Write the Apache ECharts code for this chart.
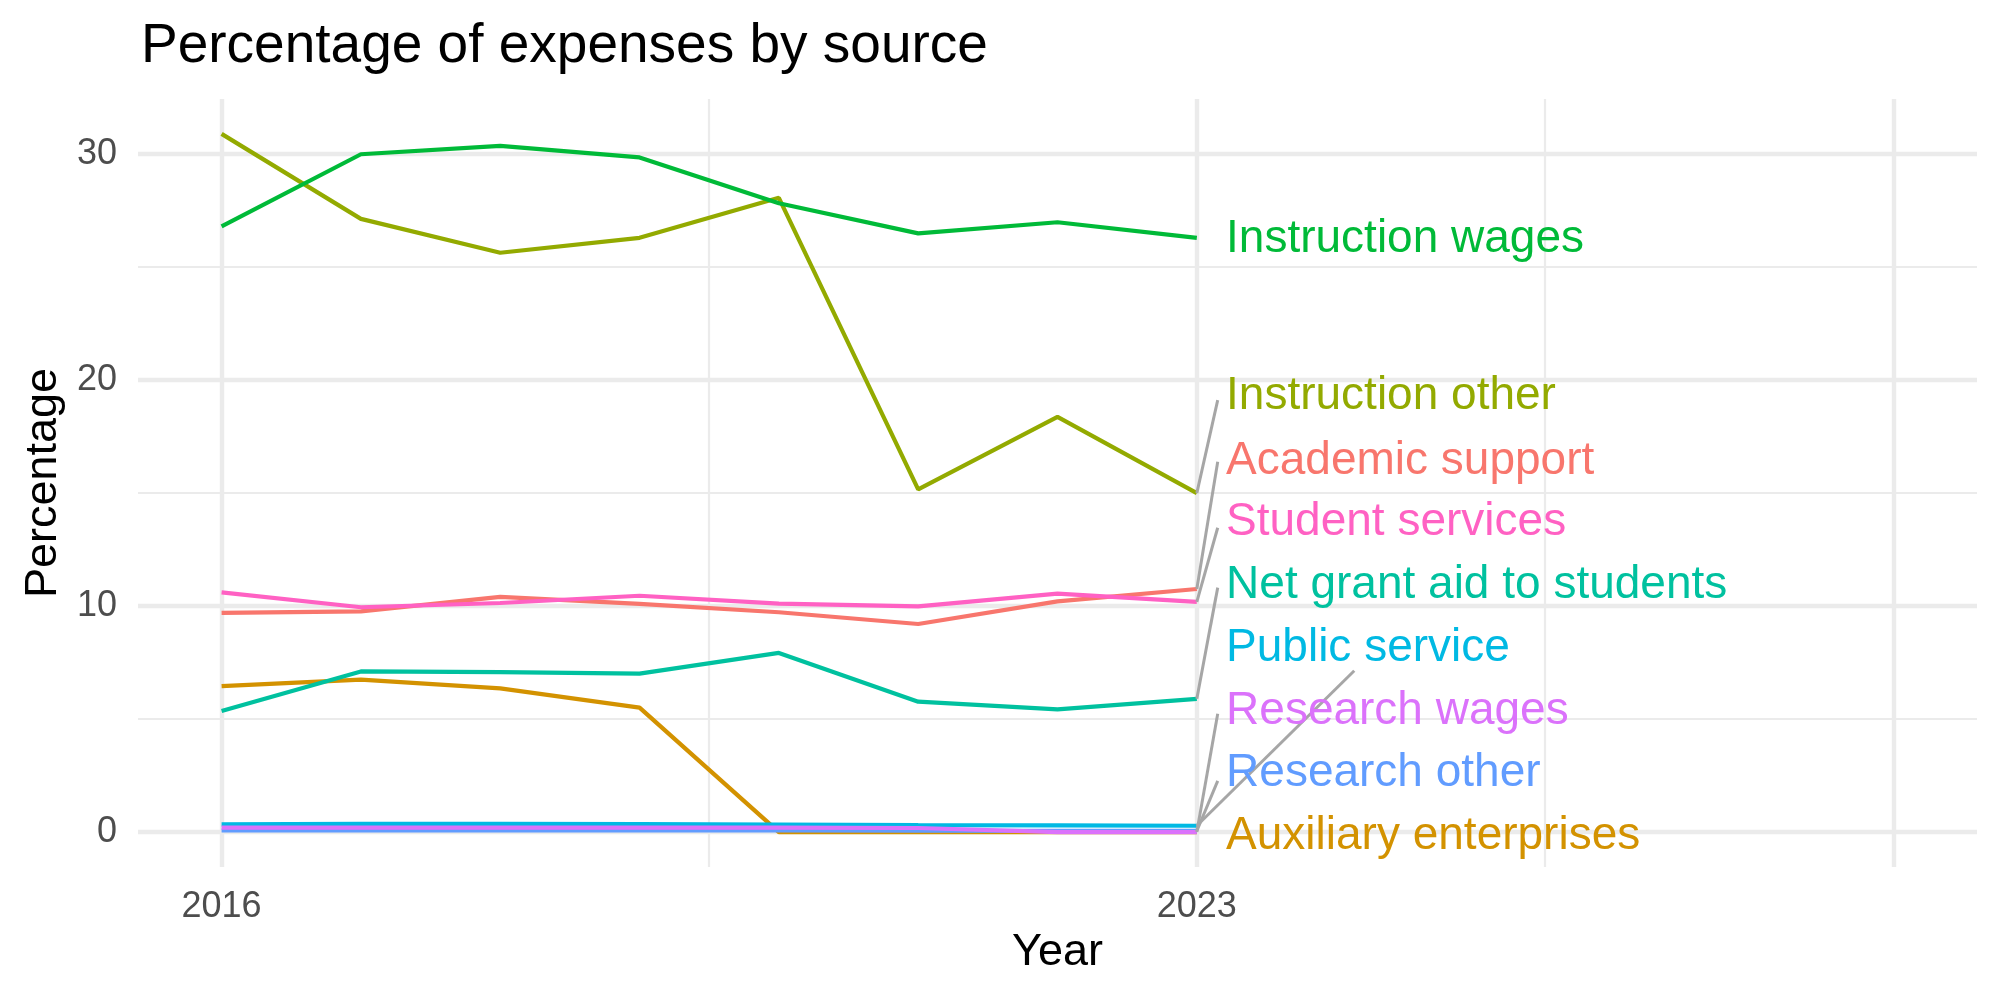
<!DOCTYPE html>
<html>
<head>
<meta charset="utf-8">
<script src="https://cdn.jsdelivr.net/npm/echarts@6/dist/echarts.min.js"></script>
<style>
  html, body { margin: 0; padding: 0; background: #fff; }
  #chart { width: 2000px; height: 1000px; }
</style>
</head>
<body>
<div id="chart"></div>
<script>
// years on the x axis
var years = [2016, 2017, 2018, 2019, 2020, 2021, 2022, 2023];

// percentage of expenses
var academicSupport   = [9.70, 9.77, 10.41, 10.10, 9.73, 9.21, 10.21, 10.76];
var auxiliary         = [6.46, 6.75, 6.36, 5.51, 0.00, 0.00, 0.00, 0.00];
var instructionOther  = [30.90, 27.14, 25.64, 26.30, 28.07, 15.17, 18.38, 15.00];
var instructionWages  = [26.81, 30.00, 30.37, 29.86, 27.83, 26.50, 26.99, 26.30];
var netGrantAid       = [5.36, 7.11, 7.08, 7.01, 7.93, 5.77, 5.43, 5.90];
var publicService     = [0.34, 0.36, 0.36, 0.35, 0.33, 0.31, 0.30, 0.28];
var researchOther     = [0.07, 0.07, 0.07, 0.07, 0.07, 0.06, 0.05, 0.05];
var researchWages     = [0.20, 0.20, 0.20, 0.20, 0.20, 0.18, 0.00, 0.00];
var studentServices   = [10.61, 9.95, 10.14, 10.46, 10.11, 9.99, 10.55, 10.19];

var seriesNames = ['Academic support', 'Auxiliary enterprises', 'Instruction other',
  'Instruction wages', 'Net grant aid to students', 'Public service',
  'Research other', 'Research wages', 'Student services'];
var seriesValues = [academicSupport, auxiliary, instructionOther, instructionWages,
  netGrantAid, publicService, researchOther, researchWages, studentServices];

// ggplot default hue palette for 9 groups
var colors = ['#F8766D', '#D39200', '#93AA00', '#00BA38', '#00C19F',
  '#00B9E3', '#619CFF', '#DB72FB', '#FF61C3'];

// y ticks and x tick labels
var yTicks = [0, 10, 20, 30];
var xTickLabels = [2016, 2023];

// --- layout for the repelled labels (data units) ---
var labelX = 2023.21;
var labelY = {
  'Instruction wages': 26.24,
  'Instruction other': 19.28,
  'Academic support': 16.43,
  'Student services': 13.70,
  'Net grant aid to students': 10.92,
  'Public service': 8.13,
  'Research wages': 5.34,
  'Research other': 2.60,
  'Auxiliary enterprises': -0.19
};
// where each connector segment ends (no entry = no segment)
var segEnd = {
  'Instruction other': [2023.15, 19.12],
  'Academic support': [2023.15, 16.39],
  'Student services': [2023.15, 13.47],
  'Net grant aid to students': [2023.15, 10.82],
  'Public service': [2024.13, 7.14],
  'Research wages': [2023.15, 5.24],
  'Research other': [2023.15, 2.27]
};

var FONT = 'Liberation Sans, Arial, Helvetica, sans-serif';
var GRID_COL = '#EBEBEB';

var chart = echarts.init(document.getElementById('chart'));

var series = [];

// grid lines drawn as mark lines so they can sit at irregular positions
var majorW = 4.4, minorW = 2.2;
series.push({
  name: 'grid',
  type: 'line',
  data: [],
  silent: true,
  z: 0,
  markLine: {
    silent: true,
    z: 0,
    symbol: ['none', 'none'],
    label: { show: false },
    animation: false,
    data: [
      { xAxis: 2016, lineStyle: { width: majorW } },
      { xAxis: 2023, lineStyle: { width: majorW } },
      { xAxis: 2028, lineStyle: { width: majorW } },
      { xAxis: 2019.5, lineStyle: { width: minorW } },
      { xAxis: 2025.5, lineStyle: { width: minorW } },
      { yAxis: 0, lineStyle: { width: majorW } },
      { yAxis: 10, lineStyle: { width: majorW } },
      { yAxis: 20, lineStyle: { width: majorW } },
      { yAxis: 30, lineStyle: { width: majorW } },
      { yAxis: 5, lineStyle: { width: minorW } },
      { yAxis: 15, lineStyle: { width: minorW } },
      { yAxis: 25, lineStyle: { width: minorW } }
    ],
    lineStyle: { color: GRID_COL, type: 'solid', opacity: 1 }
  }
});

// data lines
for (var i = 0; i < seriesNames.length; i++) {
  var pts = [];
  for (var j = 0; j < years.length; j++) pts.push([years[j], seriesValues[i][j]]);
  series.push({
    name: seriesNames[i],
    type: 'line',
    data: pts,
    symbol: 'none',
    z: 10,
    lineStyle: { color: colors[i], width: 4.2, opacity: 1 },
    itemStyle: { color: colors[i] },
    emphasis: { disabled: true },
    animation: false
  });
}

// connector segments from the last point to the label
var segs = [];
for (var i = 0; i < seriesNames.length; i++) {
  var end = segEnd[seriesNames[i]];
  if (!end) continue;
  var last = seriesValues[i][seriesValues[i].length - 1];
  segs.push({ coords: [[years[years.length - 1], last], end] });
}
series.push({
  name: 'segments',
  type: 'lines',
  coordinateSystem: 'cartesian2d',
  data: segs,
  silent: true,
  z: 11,
  lineStyle: { color: '#A6A6A6', width: 3, opacity: 1, curveness: 0 },
  animation: false
});

// labels
var labelData = [];
for (var i = 0; i < seriesNames.length; i++) {
  labelData.push({
    value: [labelX, labelY[seriesNames[i]]],
    name: seriesNames[i],
    label: { color: colors[i] }
  });
}
series.push({
  name: 'labels',
  type: 'scatter',
  data: labelData,
  symbolSize: 0,
  silent: true,
  z: 12,
  animation: false,
  itemStyle: { opacity: 1 },
  label: {
    show: true,
    position: 'right',
    distance: 0,
    formatter: '{b}',
    fontFamily: FONT,
    fontSize: 46,
    textBorderWidth: 0,
    textShadowBlur: 0,
    opacity: 1
  }
});

var option = {
  backgroundColor: '#FFFFFF',
  animation: false,
  title: {
    text: 'Percentage of expenses by source',
    left: 136,
    top: 14,
    textStyle: { fontFamily: FONT, fontSize: 55, fontWeight: 'normal', color: '#000000' }
  },
  grid: { left: 138, right: 23, top: 99, bottom: 133, containLabel: false },
  xAxis: {
    type: 'value',
    min: 2015.4,
    max: 2028.6,
    name: 'Year',
    nameLocation: 'middle',
    nameGap: 60,
    nameTextStyle: { fontFamily: FONT, fontSize: 45, color: '#000000' },
    axisLine: { show: false },
    axisTick: { show: false },
    splitLine: { show: false },
    axisLabel: {
      customValues: xTickLabels,
      formatter: function (v) { return String(v); },
      fontFamily: FONT,
      fontSize: 36,
      color: '#4D4D4D',
      margin: 22
    }
  },
  yAxis: {
    type: 'value',
    min: -1.545,
    max: 32.445,
    name: 'Percentage',
    nameLocation: 'middle',
    nameGap: 72,
    nameTextStyle: { fontFamily: FONT, fontSize: 45, color: '#000000' },
    axisLine: { show: false },
    axisTick: { show: false },
    splitLine: { show: false },
    axisLabel: {
      customValues: yTicks,
      formatter: function (v) { return String(v); },
      fontFamily: FONT,
      fontSize: 36,
      color: '#4D4D4D',
      margin: 21
    }
  },
  series: series
};

chart.setOption(option);
</script>
</body>
</html>
